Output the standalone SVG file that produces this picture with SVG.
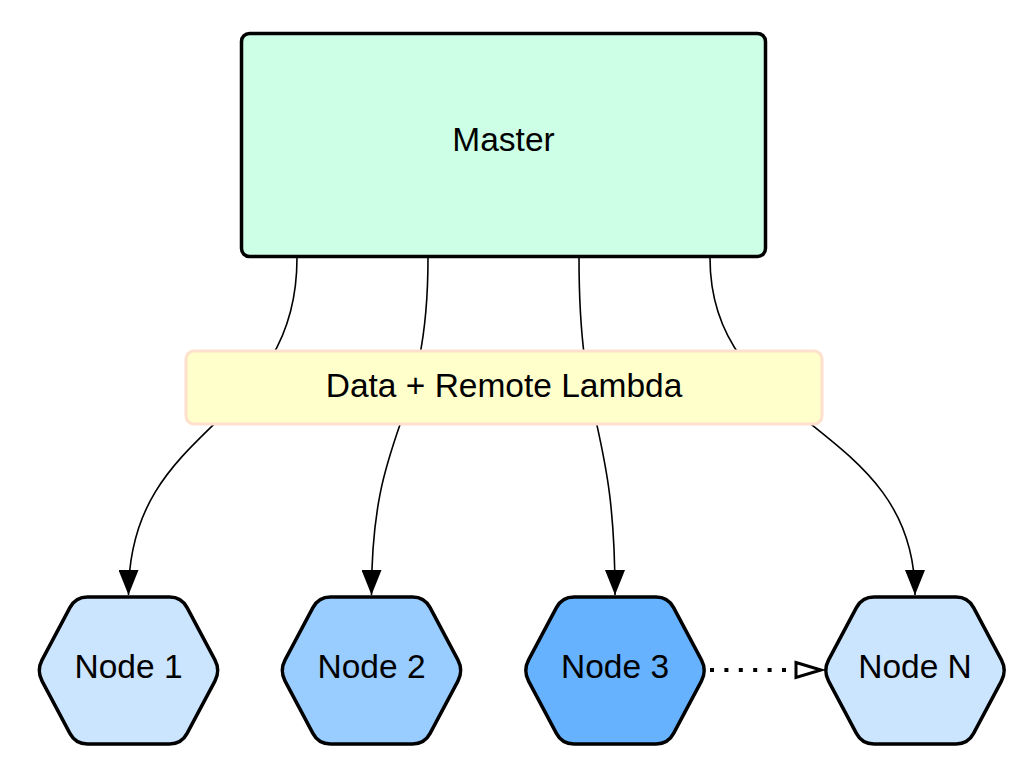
<svg xmlns="http://www.w3.org/2000/svg" width="1029" height="773" viewBox="0 0 1029 773">
  <style>
    .lbl { font-family: "Liberation Sans", Arial, sans-serif; font-size: 33.5px; fill: #000; text-anchor: middle; }
    .edge { fill: none; stroke: #000; stroke-width: 1.6; }
    .hex { stroke: #000; stroke-width: 3.5; stroke-linejoin: round; }
  </style>
  <defs>
    <marker id="ah" viewBox="0 0 25 20" markerWidth="25" markerHeight="20" refX="25" refY="10" orient="auto" markerUnits="userSpaceOnUse">
      <path d="M0,0 L25,10 L0,20 Z" fill="#000"/>
    </marker>
    <path id="hexshape" d="M-86.4,-10.6 L-58.6,-62.9 Q-53,-73.5 -41,-73.5 L41,-73.5 Q53,-73.5 58.6,-62.9 L86.4,-10.6 Q92,0 86.4,10.6 L58.6,62.9 Q53,73.5 41,73.5 L-41,73.5 Q-53,73.5 -58.6,62.9 L-86.4,10.6 Q-92,0 -86.4,-10.6 Z"/>
  </defs>

  <g id="connectors">
    <path class="edge" d="M297,258 C297,430 128.5,420 128.5,595" marker-end="url(#ah)"/>
    <path class="edge" d="M428,258 C428,430 371.5,420 371.5,595" marker-end="url(#ah)"/>
    <path class="edge" d="M579,258 C579,430 615,420 615,595" marker-end="url(#ah)"/>
    <path class="edge" d="M710,258 C710,430 915,420 915,595" marker-end="url(#ah)"/>
    <path d="M710,670 L792,670" fill="none" stroke="#000" stroke-width="4" stroke-dasharray="4 10.4"/>
    <polygon points="796,662.5 821,670 796,677.5" fill="#fff" stroke="#000" stroke-width="3"/>
  </g>

  <g id="master">
    <rect x="241.5" y="33.5" width="524" height="223" rx="8" ry="8" fill="#ccffe6" stroke="#000" stroke-width="3.5"/>
    <text class="lbl" x="503.5" y="151">Master</text>
  </g>

  <g id="data-lambda">
    <rect x="186" y="351" width="636" height="73" rx="8" ry="8" fill="#ffffcc" stroke="#ffe0cc" stroke-width="3"/>
    <text class="lbl" x="504" y="397">Data + Remote Lambda</text>
  </g>

  <g id="node1" transform="translate(128.5,670.5)">
    <use href="#hexshape" class="hex" fill="#cce5ff"/>
    <text class="lbl" x="0" y="7">Node 1</text>
  </g>

  <g id="node2" transform="translate(371.5,670.5)">
    <use href="#hexshape" class="hex" fill="#99ccff"/>
    <text class="lbl" x="0" y="7">Node 2</text>
  </g>

  <g id="node3" transform="translate(615,670.5)">
    <use href="#hexshape" class="hex" fill="#66b2ff"/>
    <text class="lbl" x="0" y="7">Node 3</text>
  </g>

  <g id="nodeN" transform="translate(915,670.5)">
    <use href="#hexshape" class="hex" fill="#cce5ff"/>
    <text class="lbl" x="0" y="7">Node N</text>
  </g>
</svg>
